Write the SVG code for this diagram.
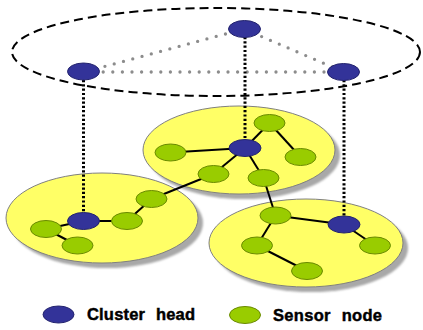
<svg xmlns="http://www.w3.org/2000/svg" width="423" height="330" viewBox="0 0 423 330">
<defs>
<filter id="blur" x="-10%" y="-10%" width="120%" height="120%"><feGaussianBlur stdDeviation="1.2"/></filter>
</defs>
<style>
.cl{fill:#ffff66;stroke:#808080;stroke-width:1}
.sh{fill:#a8a8a8;filter:url(#blur)}
.ch{fill:#333399;stroke:#24246e;stroke-width:1}
.sn{fill:#99cc00;stroke:#6a8a00;stroke-width:1}
.e{stroke:#000;stroke-width:2;fill:none}
.gd{stroke:#8c8c8c;stroke-width:3.3;stroke-dasharray:0 9.6;stroke-linecap:round;fill:none}
.vd{stroke:#000;stroke-width:3;stroke-dasharray:2.2 2.1;fill:none}
.lbl{font-family:"Liberation Sans",Arial,sans-serif;font-weight:bold;font-size:16.5px;fill:#000;stroke:#000;stroke-width:0.45}
</style>
<g id="ring">
<ellipse cx="216" cy="52" rx="204" ry="44" fill="none" stroke="#000" stroke-width="2" stroke-dasharray="9 5"/>
</g>
<g id="clusters">
<ellipse class="sh" cx="244" cy="155" rx="96" ry="44"/>
<ellipse class="cl" cx="239" cy="150" rx="96" ry="44"/>
<ellipse class="sh" cx="107" cy="223" rx="96" ry="45"/>
<ellipse class="cl" cx="102" cy="218" rx="96" ry="45"/>
<ellipse class="sh" cx="311" cy="248" rx="97" ry="44"/>
<ellipse class="cl" cx="306" cy="243" rx="97" ry="44"/>
</g>
<g id="connectors">
<line class="gd" x1="244" y1="29" x2="84" y2="72"/>
<line class="gd" x1="244" y1="29" x2="344" y2="72"/>
<line class="gd" x1="84" y1="72" x2="344" y2="72"/>
<line class="vd" x1="83.5" y1="80" x2="83.5" y2="213"/>
<line class="vd" x1="245" y1="37" x2="245" y2="140"/>
<line class="vd" x1="344" y1="80" x2="344" y2="216"/>
<line class="e" x1="245" y1="148" x2="269.5" y2="123"/>
<line class="e" x1="269.5" y1="123" x2="300.5" y2="157"/>
<line class="e" x1="245" y1="148" x2="170.5" y2="152.5"/>
<line class="e" x1="245" y1="148" x2="213.5" y2="174"/>
<line class="e" x1="245" y1="148" x2="263.5" y2="178"/>
<line class="e" x1="213.5" y1="174" x2="151.5" y2="199"/>
<line class="e" x1="263.5" y1="178" x2="275.5" y2="215.5"/>
<line class="e" x1="151.5" y1="199" x2="127" y2="221"/>
<line class="e" x1="83.5" y1="221" x2="127" y2="221"/>
<line class="e" x1="83.5" y1="221" x2="46" y2="229"/>
<line class="e" x1="46" y1="229" x2="77.5" y2="245.5"/>
<line class="e" x1="275.5" y1="215.5" x2="344" y2="224.5"/>
<line class="e" x1="275.5" y1="215.5" x2="257" y2="245.5"/>
<line class="e" x1="257" y1="245.5" x2="307" y2="271"/>
<line class="e" x1="344" y1="224.5" x2="375" y2="245.5"/>
</g>
<g id="ch-top"><ellipse class="ch" cx="244.5" cy="29" rx="16" ry="8.5"/></g>
<g id="ch-left"><ellipse class="ch" cx="83.5" cy="71.5" rx="16" ry="8.5"/></g>
<g id="ch-right"><ellipse class="ch" cx="343.5" cy="72" rx="16" ry="8.5"/></g>
<g id="c1-head"><ellipse class="ch" cx="245" cy="148" rx="16" ry="8.5"/></g>
<g id="c1-s1"><ellipse class="sn" cx="269.5" cy="123" rx="15.5" ry="8.5"/></g>
<g id="c1-s2"><ellipse class="sn" cx="170.5" cy="152.5" rx="15.5" ry="8.5"/></g>
<g id="c1-s3"><ellipse class="sn" cx="300.5" cy="157" rx="15.5" ry="8.5"/></g>
<g id="c1-s4"><ellipse class="sn" cx="213.5" cy="174" rx="15.5" ry="8.5"/></g>
<g id="c1-s5"><ellipse class="sn" cx="263.5" cy="178" rx="15.5" ry="8.5"/></g>
<g id="c2-head"><ellipse class="ch" cx="83.5" cy="221" rx="16" ry="8.5"/></g>
<g id="c2-s1"><ellipse class="sn" cx="151.5" cy="199" rx="15.5" ry="8.5"/></g>
<g id="c2-s2"><ellipse class="sn" cx="127" cy="221" rx="15.5" ry="8.5"/></g>
<g id="c2-s3"><ellipse class="sn" cx="46" cy="229" rx="15.5" ry="8.5"/></g>
<g id="c2-s4"><ellipse class="sn" cx="77.5" cy="245.5" rx="15.5" ry="8.5"/></g>
<g id="c3-head"><ellipse class="ch" cx="344" cy="224.5" rx="16" ry="8.5"/></g>
<g id="c3-s1"><ellipse class="sn" cx="275.5" cy="215.5" rx="15.5" ry="8.5"/></g>
<g id="c3-s2"><ellipse class="sn" cx="257" cy="245.5" rx="15.5" ry="8.5"/></g>
<g id="c3-s3"><ellipse class="sn" cx="375" cy="245.5" rx="15.5" ry="8.5"/></g>
<g id="c3-s4"><ellipse class="sn" cx="307" cy="271" rx="15.5" ry="8.5"/></g>
<g id="legend">
<ellipse class="ch" cx="58.5" cy="314.5" rx="15.5" ry="8.5"/>
<text class="lbl" x="87" y="320" textLength="108" lengthAdjust="spacing" style="word-spacing:6px">Cluster head</text>
<ellipse class="sn" cx="245" cy="315" rx="15.5" ry="8.5"/>
<text class="lbl" x="273" y="321" textLength="109" lengthAdjust="spacing" style="word-spacing:6px">Sensor node</text>
</g>
</svg>
